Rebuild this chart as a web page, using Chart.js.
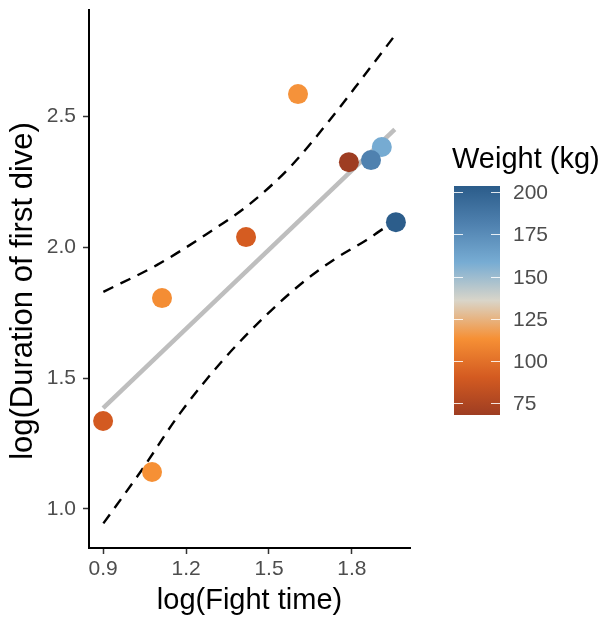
<!DOCTYPE html>
<html>
<head>
<meta charset="utf-8">
<script src="https://cdn.jsdelivr.net/npm/chart.js@4/dist/chart.umd.min.js"></script>
<style>
  html, body { margin: 0; padding: 0; background: #fff; }
  #wrap { width: 604px; height: 621px; position: relative; }
</style>
</head>
<body>
<div id="wrap"><canvas id="dive"></canvas></div>
<script>
// observed points
const fightTime   = [0.900, 1.077, 1.113, 1.417, 1.605, 1.789, 1.908, 1.869, 1.959]
const diveLength  = [1.336, 1.141, 1.805, 2.038, 2.584, 2.324, 2.382, 2.332, 2.095]
const weightKg    = [90, 113, 112, 91, 114, 68, 159, 181, 203]

// fitted line and confidence band
const fitX   = [0.900, 1.955]
const fitY   = [1.385, 2.449]
const upperX = [0.901, 1.094, 1.275, 1.431, 1.576, 1.720, 1.841, 1.961]
const upperY = [1.829, 1.931, 2.050, 2.165, 2.305, 2.485, 2.650, 2.816]
const lowerX = [0.901, 1.040, 1.178, 1.335, 1.492, 1.612, 1.732, 1.853, 1.925, 1.955]
const lowerY = [0.945, 1.149, 1.365, 1.570, 1.742, 1.856, 1.950, 2.027, 2.077, 2.090]

const xTicks = [0.9, 1.2, 1.5, 1.8]
const yTicks = [1.0, 1.5, 2.0, 2.5]
const weightTicks = [75, 100, 125, 150, 175, 200]
const weightRange = [68, 203.6]
const paletteStops = ['#9e3d22', '#d45b21', '#f69035', '#d9d5c9', '#77acd3', '#4f81af', '#2b5c8a']

const pairs = (xs, ys) => xs.map((x, i) => ({ x: x, y: ys[i] }))

function hexRgb(h) {
    return [1, 3, 5].map(i => parseInt(h.substr(i, 2), 16))
}

function weightColour(w) {
    let t = (w - weightRange[0]) / (weightRange[1] - weightRange[0])
    t = Math.max(0, Math.min(1, t)) * (paletteStops.length - 1)
    const i = Math.min(Math.floor(t), paletteStops.length - 2)
    const f = t - i
    const a = hexRgb(paletteStops[i]), b = hexRgb(paletteStops[i + 1])
    const c = a.map((v, k) => Math.round(v + (b[k] - v) * f))
    return 'rgb(' + c.join(',') + ')'
}

const FAMILY = "'Liberation Sans', Arial, sans-serif"
const tickFont = { family: FAMILY, size: 21 }
const titleFont = { family: FAMILY, size: 29 }

// colour bar for the weight legend, plus the y title
const colourBar = {
    id: 'colourBar',
    afterDraw(chart) {
        const ctx = chart.ctx
        const left = 454, width = 46, top = 186, bottom = 415
        const yOf = w => bottom - (w - weightRange[0]) / (weightRange[1] - weightRange[0]) * (bottom - top)

        const grad = ctx.createLinearGradient(0, bottom, 0, top)
        paletteStops.forEach((c, i) => grad.addColorStop(i / (paletteStops.length - 1), c))
        ctx.save()
        ctx.fillStyle = grad
        ctx.fillRect(left, top, width, bottom - top)

        ctx.strokeStyle = 'rgba(255,255,255,0.85)'
        ctx.lineWidth = 1
        ctx.font = '21px ' + FAMILY
        ctx.fillStyle = '#4d4d4d'
        ctx.textBaseline = 'middle'
        ctx.textAlign = 'left'
        weightTicks.forEach(w => {
            const y = Math.round(yOf(w)) + 0.5
            ctx.beginPath()
            ctx.moveTo(left, y); ctx.lineTo(left + 9, y)
            ctx.moveTo(left + width - 9, y); ctx.lineTo(left + width, y)
            ctx.stroke()
            ctx.fillText(String(w), 513, y + 1)
        })

        ctx.fillStyle = '#000'
        ctx.font = '29px ' + FAMILY
        ctx.fillText('Weight (kg)', 452, 160)

        // y axis title, drawn by hand so it can sit a little lower
        ctx.translate(32, 291)
        ctx.rotate(-Math.PI / 2)
        ctx.textAlign = 'center'
        ctx.textBaseline = 'alphabetic'
        ctx.font = '31px ' + FAMILY
        ctx.fillText('log(Duration of first dive)', 0, 0)
        ctx.restore()
    }
}

new Chart(document.getElementById('dive'), {
    type: 'scatter',
    data: {
        datasets: [{
            label: 'dives',
            data: pairs(fightTime, diveLength),
            pointRadius: 10,
            pointHoverRadius: 10,
            borderWidth: 0,
            pointBackgroundColor: weightKg.map(weightColour),
            pointBorderColor: 'rgba(0,0,0,0)'
        }, {
            label: 'fit',
            data: pairs(fitX, fitY),
            showLine: true,
            pointRadius: 0,
            borderColor: '#bebebe',
            borderWidth: 4.5,
            borderCapStyle: 'butt'
        }, {
            label: 'upper',
            data: pairs(upperX, upperY),
            showLine: true,
            pointRadius: 0,
            borderColor: '#000',
            borderWidth: 2.4,
            borderDash: [11, 8],
            cubicInterpolationMode: 'monotone'
        }, {
            label: 'lower',
            data: pairs(lowerX, lowerY),
            showLine: true,
            pointRadius: 0,
            borderColor: '#000',
            borderWidth: 2.4,
            borderDash: [11, 8],
            cubicInterpolationMode: 'monotone'
        }]
    },
    options: {
        responsive: true,
        maintainAspectRatio: false,
        animation: false,
        layout: { padding: { top: 10, right: 194, left: 0, bottom: 0 } },
        plugins: {
            legend: { display: false },
            tooltip: { enabled: false }
        },
        scales: {
            x: {
                type: 'linear',
                min: 0.849,
                max: 2.01,
                afterFit: s => { s.height = 73; s.paddingLeft = 0; s.paddingRight = 0 },
                afterBuildTicks: s => { s.ticks = xTicks.map(v => ({ value: v })) },
                border: { color: '#000', width: 2 },
                grid: { drawOnChartArea: false, drawTicks: true, tickLength: 6, tickColor: '#333', tickWidth: 1.5 },
                ticks: { font: tickFont, color: '#4d4d4d', padding: 3, callback: v => v.toFixed(1) },
                title: { display: true, text: 'log(Fight time)', font: titleFont, color: '#000', padding: { top: 0, bottom: 3 } }
            },
            y: {
                type: 'linear',
                min: 0.851,
                max: 2.905,
                afterFit: s => { s.width = 89; s.paddingTop = 0; s.paddingBottom = 0 },
                afterBuildTicks: s => { s.ticks = yTicks.map(v => ({ value: v })) },
                border: { color: '#000', width: 2 },
                grid: { drawOnChartArea: false, drawTicks: true, tickLength: 6, tickColor: '#333', tickWidth: 1.5 },
                ticks: { font: tickFont, color: '#4d4d4d', padding: 7, callback: v => v.toFixed(1) },
                title: { display: false }
            }
        }
    },
    plugins: [colourBar]
})
</script>
</body>
</html>
